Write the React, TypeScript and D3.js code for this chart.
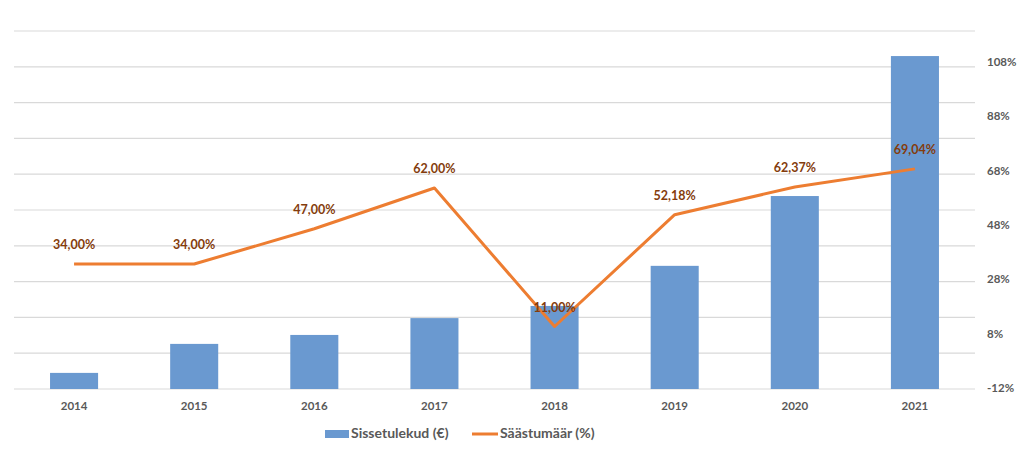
import React from 'react'
import * as d3 from 'd3'

const years = ['2014', '2015', '2016', '2017', '2018', '2019', '2020', '2021']
const income = [450, 1260, 1510, 1980, 2320, 3440, 5390, 9300]
// savings rate in percent
const savingsRate = [34.0, 34.0, 47.0, 62.0, 11.0, 52.18, 62.37, 69.04]
const rightTicks = [-12, 8, 28, 48, 68, 88, 108]
const leftTicks = d3.range(0, 10001, 1000)

const W = 1024
const H = 450
const margin = { top: 31, right: 49, bottom: 61, left: 14 }
const font = 'Lato, "Open Sans", sans-serif'

const fmt = (v: number) => v.toFixed(2).replace('.', ',') + '%'

export default function App() {
  const x = d3.scaleBand<string>()
    .domain(years)
    .range([margin.left, W - margin.right])
    .paddingInner(0.6)
    .paddingOuter(0.3)
  const yLeft = d3.scaleLinear().domain([0, 10000]).range([H - margin.bottom, margin.top])
  const yRight = d3.scaleLinear().domain([-12, 119.8]).range([H - margin.bottom, margin.top])

  const cx = (d: string) => (x(d) || 0) + x.bandwidth() / 2
  const line = d3.line<number>()
    .x((_, i) => cx(years[i]))
    .y(d => yRight(d))

  return (
    <svg width={W} height={H} style={{ position: 'absolute', left: 0, top: 0 }} fontFamily={font}>
      <rect width={W} height={H} fill="#fff" />
      {leftTicks.map(t => (
        <line key={t} x1={margin.left} x2={W - margin.right} y1={yLeft(t)} y2={yLeft(t)}
          stroke="#d9d9d9" strokeWidth={1.2} />
      ))}
      {years.map((yr, i) => (
        <rect key={yr} x={x(yr)} width={x.bandwidth()} y={yLeft(income[i])}
          height={yLeft(0) - yLeft(income[i])} fill="#6a99d0" />
      ))}
      <path d={line(savingsRate) || ''} fill="none" stroke="#ed7d31" strokeWidth={3} strokeLinejoin="round" />
      {savingsRate.map((v, i) => (
        <text key={i} x={cx(years[i])} y={yRight(v) - 18} textAnchor="middle" dominantBaseline="middle"
          fontSize={12.5} fontWeight="bold" fill="#843c0c">{fmt(v)}</text>
      ))}
      {years.map(yr => (
        <text key={yr} x={cx(yr)} y={407} textAnchor="middle" dominantBaseline="middle"
          fontSize={11.5} fontWeight="bold" fill="#595959">{yr}</text>
      ))}
      {rightTicks.map(t => (
        <text key={t} x={987} y={yRight(t)} dominantBaseline="middle"
          fontSize={11.5} fontWeight="bold" fill="#595959">{t}%</text>
      ))}
      <g fontSize={14} fontWeight="bold" fill="#595959">
        <rect x={325} y={430} width={24} height={8} fill="#6a99d0" />
        <text x={351} y={434} dominantBaseline="middle">Sissetulekud (€)</text>
        <line x1={472} x2={498} y1={434} y2={434} stroke="#ed7d31" strokeWidth={3} />
        <text x={500} y={434} dominantBaseline="middle">Säästumäär (%)</text>
      </g>
    </svg>
  )
}
